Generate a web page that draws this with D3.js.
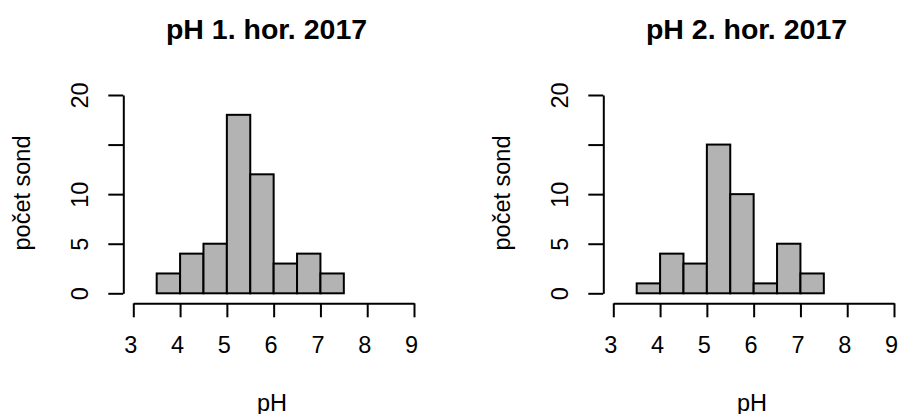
<!DOCTYPE html>
<html>
<head>
<meta charset="utf-8">
<script src="https://cdn.jsdelivr.net/npm/d3@7"></script>
<style>
  html, body { margin: 0; padding: 0; background: #fff; }
  svg { display: block; }
  text { font-family: "Liberation Sans", Arial, Helvetica, sans-serif; fill: #000; }
</style>
</head>
<body>
<svg id="chart" width="899" height="414"></svg>
<script>
// ---- data ----
const binStarts = [3, 3.5, 4, 4.5, 5, 5.5, 6, 6.5, 7, 7.5, 8, 8.5];
const binWidth = 0.5;
const counts1 = [0, 2, 4, 5, 18, 12, 3, 4, 2, 0, 0, 0];
const counts2 = [0, 1, 4, 3, 15, 10, 1, 5, 2, 0, 0, 0];
const titles = ["pH 1. hor. 2017", "pH 2. hor. 2017"];
const xTicks = [3, 4, 5, 6, 7, 8, 9];
const yTicks = [0, 5, 10, 15, 20];
const yTickLabels = ["0", "5", "10", "", "20"];
const xLabel = "pH";
const yLabel = "počet sond";

// ---- layout ----
const svg = d3.select("#chart");
const panels = [
  { counts: counts1, title: titles[0], dx: 0 },
  { counts: counts2, title: titles[1], dx: 480 }
];
const baseFont = 23.5;

panels.forEach(p => {
  const g = svg.append("g").attr("transform", `translate(${p.dx},0)`);
  const x = d3.scaleLinear().domain([3, 9]).range([133.3, 414]);
  const y = d3.scaleLinear().domain([0, 20]).range([293.3, 95]);

  // bars
  g.append("g").selectAll("rect")
    .data(binStarts.map((b, i) => ({ b, c: p.counts[i] })))
    .join("rect")
    .attr("x", d => x(d.b))
    .attr("width", d => x(d.b + binWidth) - x(d.b))
    .attr("y", d => y(d.c))
    .attr("height", d => y(0) - y(d.c))
    .attr("fill", "#b3b3b3")
    .attr("stroke", "#000")
    .attr("stroke-width", 2);

  // x axis
  const xa = g.append("g").attr("transform", "translate(0,303.3)")
    .call(d3.axisBottom(x).tickValues(xTicks).tickSize(14).tickSizeOuter(0).tickFormat(d3.format("d")));
  xa.select(".domain").attr("stroke-width", 2);
  xa.selectAll(".tick line").attr("stroke-width", 2);
  xa.selectAll(".tick text")
    .attr("x", -3)
    .attr("y", 50).attr("dy", "0")
    .style("font-size", baseFont + "px");

  // y axis
  const ya = g.append("g").attr("transform", "translate(123.3,0)")
    .call(d3.axisLeft(y).tickValues(yTicks).tickSize(15).tickSizeOuter(0)
      .tickFormat((d, i) => yTickLabels[i]));
  ya.select(".domain").attr("stroke-width", 2);
  ya.selectAll(".tick line").attr("stroke-width", 2);
  ya.selectAll(".tick text")
    .attr("transform", "rotate(-90)")
    .attr("x", 0).attr("y", -35.3).attr("dy", "0")
    .attr("text-anchor", "middle")
    .style("font-size", baseFont + "px");

  // title
  g.append("text")
    .attr("x", 266.5).attr("y", 39.3)
    .attr("text-anchor", "middle")
    .style("font-size", "28.5px").style("font-weight", "bold")
    .text(p.title);

  // x label
  g.append("text")
    .attr("x", 272).attr("y", 411)
    .attr("text-anchor", "middle")
    .style("font-size", baseFont + "px")
    .text(xLabel);

  // y label
  g.append("text")
    .attr("transform", "translate(30,193) rotate(-90)")
    .attr("text-anchor", "middle")
    .style("font-size", baseFont + "px")
    .text(yLabel);
});
</script>
</body>
</html>
